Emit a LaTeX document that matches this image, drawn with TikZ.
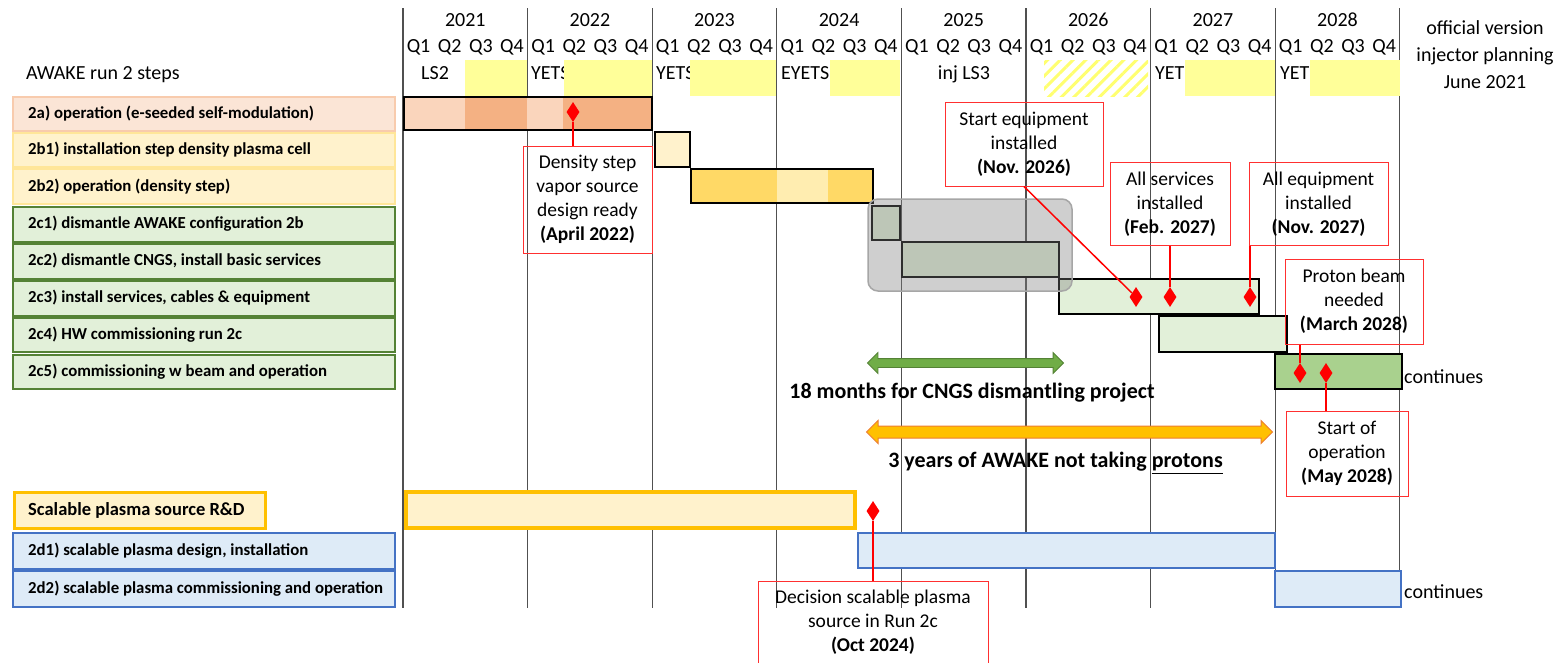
\documentclass[tikz,border=0pt]{standalone}
\usepackage{fontspec}
\setmainfont{Carlito}
\usetikzlibrary{shapes.geometric,shapes.arrows,patterns.meta,fit}
\definecolor{orLab}{HTML}{FBE5D6}
\definecolor{orLabB}{HTML}{F8CBAD}
\definecolor{orA}{HTML}{FAD5BC}
\definecolor{orB}{HTML}{F4B183}
\definecolor{yeLab}{HTML}{FFF2CC}
\definecolor{yeLabB}{HTML}{FFE699}
\definecolor{yeMid}{HTML}{FFD966}
\definecolor{yeLt}{HTML}{FFEDB0}
\definecolor{grLab}{HTML}{E2F0D9}
\definecolor{grDark}{HTML}{548235}
\definecolor{grMid}{HTML}{A9D18E}
\definecolor{grArrow}{HTML}{70AD47}
\definecolor{blLab}{HTML}{DEEBF7}
\definecolor{blB}{HTML}{4472C4}
\definecolor{gold}{HTML}{FFC000}
\definecolor{orArrowB}{HTML}{ED7D31}
\definecolor{hl}{HTML}{FFFF99}
\definecolor{hatchc}{HTML}{FFFF70}
\definecolor{greyOver}{HTML}{7F7F7F}
\definecolor{greyOverB}{HTML}{A6A6A6}
\definecolor{callred}{HTML}{FF3030}
\definecolor{gridc}{HTML}{505050}
\begin{document}
\begin{tikzpicture}[x=1pt,y=-1pt,
  hdr/.style={font=\fontsize{20}{24}\selectfont, inner sep=0pt, anchor=base},
  rowtxt/.style={font=\fontsize{20}{24}\selectfont, inner sep=0pt, anchor=base west},
  labtxt/.style={font=\bfseries\fontsize{16.8}{19}\selectfont, anchor=west, inner sep=0pt},
  labbox/.style={inner sep=0pt, line width=1.6pt},
  bar/.style={draw=black, line width=2.2pt, inner sep=0pt},
  hlbox/.style={fill=hl, inner sep=0pt},
  callbox/.style={draw=callred, line width=1pt, inner sep=0pt},
  calltxt/.style={align=center, inner sep=0pt, font=\fontsize{19.5}{24}\selectfont},
  redline/.style={draw=red, line width=1.5pt},
  mile/.style={diamond, fill=red, inner sep=0pt, minimum width=13pt, minimum height=20pt},
  note/.style={font=\bfseries\fontsize{22}{26}\selectfont, inner sep=0pt},
  cont/.style={font=\fontsize{20}{24}\selectfont, anchor=west, inner sep=0pt},
  gridline/.style={draw=gridc, line width=1.2pt}]

\useasboundingbox (0,0) rectangle (1567,662);
\fill[white] (0,0) rectangle (1567,662);

% grid lines
\foreach \i in {0,...,8} \draw[gridline] (403+\i*124.6,8) -- (403+\i*124.6,608);

% header: years and quarters
\foreach \i/\yr in {0/2021,1/2022,2/2023,3/2024,4/2025,5/2026,6/2027,7/2028} {
  \node[hdr] (yr\yr) at (403+\i*124.6+62.3,26.5) {\yr};
  \foreach \k in {1,...,4}
    \node[hdr] (q\yr\k) at (403+\i*124.6+\k*31.15-15.6,52.5) {Q\k};
}
\node[align=center, inner sep=0pt, font=\fontsize{20}{27}\selectfont] (official) at (1485,55) {official version\\injector planning\\June 2021};

% row 3: machine schedule
\node[rowtxt] (steps) at (26,79) {AWAKE run 2 steps};
\node[rowtxt] (ls2) at (421,79) {LS2};
\node[rowtxt] (yets22) at (531,79) {YETS};
\node[rowtxt] (yets23) at (656,79) {YETS};
\node[rowtxt] (eyets) at (781,79) {EYETS};
\node[hdr] (injls3) at (964,79) {inj LS3};
\node[rowtxt] (yet27) at (1155,79) {YET};
\node[rowtxt] (yet28) at (1280,79) {YET};
\node[hlbox, fit={(465,60)(527,96)}] (hl21) {};
\node[hlbox, fit={(564,60)(652,96)}] (hl22) {};
\node[hlbox, fit={(690,60)(776,96)}] (hl23) {};
\node[hlbox, fit={(830,60)(900,96)}] (hl24) {};
\node[inner sep=0pt, fit={(1044,60)(1148,96)}, pattern={Lines[angle=45,distance=9pt,line width=3pt]}, pattern color=hatchc] (hl26) {};
\node[hlbox, fit={(1185,60)(1275,96)}] (hl27) {};
\node[hlbox, fit={(1310,60)(1400,96)}] (hl28) {};

% left labels
\node[labbox, fill=orLab, draw=orLabB, fit={(13,97)(395,131)}] (l2a) {};
\node[labbox, fill=yeLab, draw=yeLabB, fit={(13,133)(395,167)}] (l2b1) {};
\node[labbox, fill=yeLab, draw=yeLabB, fit={(13,169)(395,204)}] (l2b2) {};
\node[labbox, fill=grLab, draw=grDark, fit={(13,207)(395,242)}] (l2c1) {};
\node[labbox, fill=grLab, draw=grDark, fit={(13,244)(395,279)}] (l2c2) {};
\node[labbox, fill=grLab, draw=grDark, fit={(13,281)(395,316)}] (l2c3) {};
\node[labbox, fill=grLab, draw=grDark, fit={(13,318)(395,352)}] (l2c4) {};
\node[labbox, fill=grLab, draw=grDark, fit={(13,355)(395,389)}] (l2c5) {};
\node[inner sep=0pt, line width=3pt, fill=yeLab, draw=gold, fit={(14,492)(265,528)}] (lrd) {};
\node[labbox, fill=blLab, draw=blB, fit={(13,533)(395,569)}] (l2d1) {};
\node[labbox, fill=blLab, draw=blB, fit={(13,571)(395,607)}] (l2d2) {};
\node[labtxt] (t2a) at (28,114) {2a) operation (e-seeded self-modulation)};
\node[labtxt] (t2b1) at (28,150) {2b1) installation step density plasma cell};
\node[labtxt] (t2b2) at (28,187) {2b2) operation (density step)};
\node[labtxt] (t2c1) at (28,224) {2c1) dismantle AWAKE configuration 2b};
\node[labtxt] (t2c2) at (28,261) {2c2) dismantle CNGS, install basic services};
\node[labtxt] (t2c3) at (28,298) {2c3) install services, cables \& equipment};
\node[labtxt] (t2c4) at (28,335) {2c4) HW commissioning run 2c};
\node[labtxt] (t2c5) at (28,372) {2c5) commissioning w beam and operation};
\node[labtxt, font=\bfseries\fontsize{18.5}{22}\selectfont] (trd) at (28,510) {Scalable plasma source R\&D};
\node[labtxt] (t2d1) at (28,551) {2d1) scalable plasma design, installation};
\node[labtxt] (t2d2) at (28,589) {2d2) scalable plasma commissioning and operation};

% Gantt bars
\fill[orA] (404,97) rectangle (465,130);
\fill[orB] (465,97) rectangle (527,130);
\fill[orA] (527,97) rectangle (563,130);
\fill[orB] (563,97) rectangle (652,130);
\node[bar, fit={(404,97)(652,130)}] (b2a) {};
\node[bar, fill=yeLab, fit={(655,132)(690,167)}] (b2b1) {};
\fill[yeMid] (691,169) rectangle (777,203);
\fill[yeLt] (777,169) rectangle (828,203);
\fill[yeMid] (828,169) rectangle (873,203);
\node[bar, fit={(691,169)(873,203)}] (b2b2) {};
\node[bar, fill=grLab, fit={(872,206)(900,240)}] (b2c1) {};
\node[bar, fill=grLab, fit={(902,242)(1059,277)}] (b2c2) {};
\node[bar, fill=grLab, fit={(1059,279)(1259,314)}] (b2c3) {};
\node[bar, fill=grLab, fit={(1159,316)(1287,352)}] (b2c4) {};
\node[bar, fill=grMid, fit={(1275,354)(1402,389)}] (b2c5) {};
\node[inner sep=0pt, line width=4pt, fill=yeLab, draw=gold, fit={(406,492)(855,528)}] (brd) {};
\node[bar, draw=blB, fill=blLab, fit={(858,533)(1275,568)}] (b2d1) {};
\node[bar, draw=blB, fill=blLab, fit={(1275,571)(1401,607)}] (b2d2) {};
\node[cont] (cont1) at (1404,377) {continues};
\node[cont] (cont2) at (1404,592) {continues};

% grey overlay on dismantling steps
\node[draw=greyOverB, line width=1.5pt, fill=greyOver, fill opacity=0.37, rounded corners=10pt, inner sep=0pt, fit={(868,199)(1072,291)}] (dismantle) {};

% block arrows
\node[double arrow, draw=grDark, fill=grArrow, line width=0.8pt, inner xsep=0pt, inner ysep=4pt, minimum height=196pt, double arrow head extend=6pt] (arr18) at (965.5,363) {};
\node[note] (t18) at (972,393) {18 months for CNGS dismantling project};
\node[double arrow, draw=orArrowB, fill=gold, line width=1pt, inner xsep=0pt, inner ysep=5.5pt, minimum height=406pt, double arrow head extend=5.5pt] (arr3) at (1069.5,432) {};
\node[note] (t3) at (1055.5,463) {3 years of AWAKE not taking \underline{protons}};

% milestones
\node[mile] (mA) at (573,112) {};
\node[mile] (mB) at (1136,297) {};
\node[mile] (mC) at (1170,297) {};
\node[mile] (mD) at (1250,297) {};
\node[mile] (mE) at (1300,373) {};
\node[mile] (mF) at (1326,373) {};
\node[mile] (mG) at (873,511) {};

% callouts
\node[callbox, fit={(523,146)(652,253)}] (cA) {};
\node[calltxt] (cAt) at (587.5,199) {Density step\\vapor source\\design ready\\\textbf{(April 2022)}};
\node[callbox, fit={(945,102)(1103,186)}] (cB) {};
\node[calltxt] (cBt) at (1024,144) {Start equipment\\installed\\\textbf{(Nov. 2026)}};
\node[callbox, fit={(1110,162)(1230,245)}] (cC) {};
\node[calltxt] (cCt) at (1170,204) {All services\\installed\\\textbf{(Feb. 2027)}};
\node[callbox, fit={(1249,162)(1388,245)}] (cD) {};
\node[calltxt] (cDt) at (1318.5,204) {All equipment\\installed\\\textbf{(Nov. 2027)}};
\node[callbox, fit={(1285,259)(1423,344)}] (cE) {};
\node[calltxt] (cEt) at (1354,301) {Proton beam\\needed\\\textbf{(March 2028)}};
\node[callbox, fit={(1286,411)(1408,496)}] (cF) {};
\node[calltxt] (cFt) at (1347,453) {Start of\\operation\\\textbf{(May 2028)}};
\node[callbox, fit={(758,581)(988,700)}] (cG) {};
\node[calltxt] (cGt) at (873,622) {Decision scalable plasma\\source in Run 2c\\\textbf{(Oct 2024)}};

% callout connectors
\draw[redline] (mA) -- (mA |- cA.north);
\draw[redline] (cB.south) -- (mB);
\draw[redline] (mC |- cC.south) -- (mC);
\draw[redline] (mD |- cD.south) -- (mD);
\draw[redline] (mE |- cE.south) -- (mE);
\draw[redline] (mF) -- (mF |- cF.north);
\draw[redline] (mG) -- (mG |- cG.north);
\end{tikzpicture}
\end{document}
